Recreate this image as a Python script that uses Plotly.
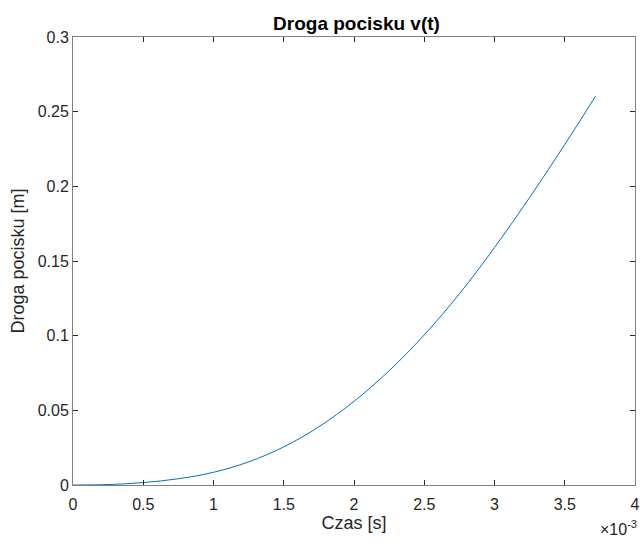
import plotly.graph_objects as go

# data (time in ms, displacement in m)
t_ms = [0, 0.25, 0.5, 0.75, 1.0, 1.25, 1.5, 1.75, 2.0, 2.25, 2.5, 2.75, 3.0, 3.25, 3.5, 3.72]
s_m = [0, 0.0003, 0.0016, 0.0042, 0.0085, 0.0155, 0.0255, 0.039, 0.056, 0.0765, 0.1005,
       0.128, 0.159, 0.1925, 0.228, 0.2605]
t_s = [v * 1e-3 for v in t_ms]

x_tick_vals = [0, 0.5e-3, 1e-3, 1.5e-3, 2e-3, 2.5e-3, 3e-3, 3.5e-3, 4e-3]
x_tick_text = ["0", "0.5", "1", "1.5", "2", "2.5", "3", "3.5", "4"]
y_tick_vals = [0, 0.05, 0.1, 0.15, 0.2, 0.25, 0.3]
y_tick_text = ["0", "0.05", "0.1", "0.15", "0.2", "0.25", "0.3"]

FONT = "Liberation Sans, Arial, Helvetica, sans-serif"
TXT = "#262626"
AX = "#808080"

fig = go.Figure()
fig.add_trace(go.Scatter(x=t_s, y=s_m, mode="lines",
                         line=dict(color="#0072BD", width=1, shape="spline", smoothing=1.0),
                         showlegend=False, hoverinfo="skip"))

fig.update_layout(
    width=643, height=543,
    margin=dict(l=73, r=3, t=37, b=58),
    paper_bgcolor="white", plot_bgcolor="white",
    font=dict(family=FONT, color=TXT, size=16),
    title=dict(text="<b>Droga pocisku v(t)</b>", x=(73 + 640) / 2 / 643, xanchor="center",
               y=1 - 23 / 543, yanchor="middle", font=dict(size=19, color="#000000")),
)
common = dict(showgrid=False, zeroline=False, showline=True, linecolor=AX, linewidth=1,
              mirror="allticks", ticks="inside", ticklen=5, tickcolor=TXT, tickwidth=1,
              tickfont=dict(size=16, color=TXT), ticklabeloverflow="allow")
fig.update_xaxes(range=[0, 4e-3], tickvals=x_tick_vals, ticktext=x_tick_text,
                 ticklabelstandoff=5,
                 title=dict(text="Czas [s]", font=dict(size=18, color=TXT), standoff=3),
                 **common)
fig.update_yaxes(range=[0, 0.3], tickvals=y_tick_vals, ticktext=y_tick_text,
                 title=dict(text="Droga pocisku [m]", font=dict(size=18, color=TXT), standoff=8),
                 **common)
fig.add_annotation(text="×10<sup>-3</sup>", xref="paper", yref="paper",
                   x=1.008, y=-0.097, xanchor="right", yanchor="middle", showarrow=False,
                   font=dict(size=16, color=TXT))

fig.write_html("out.html")
